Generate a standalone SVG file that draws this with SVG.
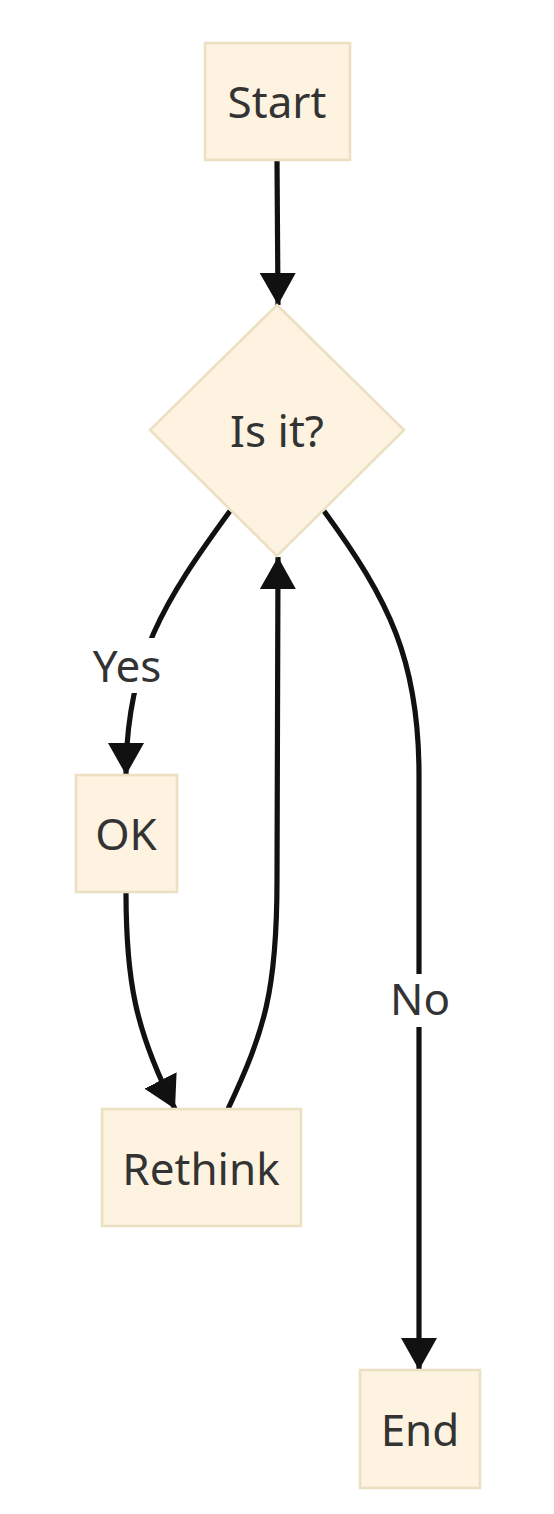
<svg xmlns="http://www.w3.org/2000/svg" width="554" height="1514" viewBox="0 0 554 1514">
<style>
.node{fill:#fdf3e0;stroke:#ece0c2;stroke-width:2.6}
.lbl{font-family:"Noto Sans","Open Sans","DejaVu Sans",sans-serif;font-size:44px;fill:#333333;text-anchor:middle}
.edge{fill:none;stroke:#111111;stroke-width:5.2}
.lblbg{fill:#ffffff}
</style>
<defs>
<marker id="arr" markerUnits="userSpaceOnUse" viewBox="0 0 32 36" refX="32" refY="18" markerWidth="32" markerHeight="36" orient="auto">
<path d="M0,0 L32,18 L0,36 z" fill="#111111"/>
</marker>
</defs>
<rect width="554" height="1514" fill="#ffffff"/>
<g id="edges">
<path class="edge" d="M277,160 L278,305" marker-end="url(#arr)"/>
<path class="edge" d="M230,511 C165,600 126,660 126,775" marker-end="url(#arr)"/>
<path class="edge" d="M126,892 C126,980 135,1030 175,1109" marker-end="url(#arr)"/>
<path class="edge" d="M228,1109 C265,1030 277,990 277,880 L278,557" marker-end="url(#arr)"/>
<path class="edge" d="M324,511 C389,600 419,660 419,775 L419,1370" marker-end="url(#arr)"/>
</g>
<g id="edge-labels">
<g id="label-yes">
<rect class="lblbg" x="93" y="638" width="68" height="55"/>
<text class="lbl" x="127" y="682">Yes</text>
</g>
<g id="label-no">
<rect class="lblbg" x="392" y="974" width="56" height="53"/>
<text class="lbl" x="420" y="1015">No</text>
</g>
</g>
<g id="node-start">
<rect class="node" x="205" y="43" width="145" height="117"/>
<text class="lbl" x="277" y="118">Start</text>
</g>
<g id="node-isit">
<polygon class="node" points="277,305 404,430 277,556 150,430"/>
<text class="lbl" x="277" y="447">Is it?</text>
</g>
<g id="node-ok">
<rect class="node" x="76" y="775" width="101" height="117"/>
<text class="lbl" x="126" y="850">OK</text>
</g>
<g id="node-rethink">
<rect class="node" x="102" y="1109" width="199" height="117"/>
<text class="lbl" x="201" y="1185">Rethink</text>
</g>
<g id="node-end">
<rect class="node" x="360" y="1370" width="120" height="118"/>
<text class="lbl" x="420" y="1446">End</text>
</g>
</svg>
